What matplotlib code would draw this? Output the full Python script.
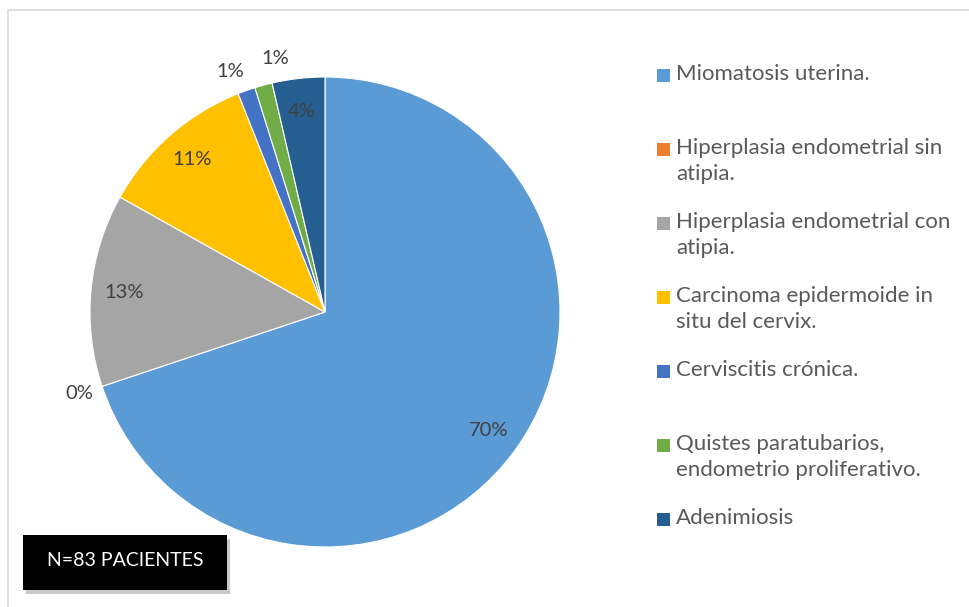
import numpy as np
import matplotlib.pyplot as plt
from matplotlib.patches import Rectangle

plt.rcParams['font.family'] = ['Lato', 'DejaVu Sans']

# data: number of patients per diagnosis (N=83)
categories = ['Miomatosis uterina.',
              'Hiperplasia endometrial sin\natipia.',
              'Hiperplasia endometrial con\natipia.',
              'Carcinoma epidermoide in\nsitu del cervix.',
              'Cerviscitis crónica.',
              'Quistes paratubarios,\nendometrio proliferativo.',
              'Adenimiosis']
counts = [58, 0, 11, 9, 1, 1, 3]
colors = ['#5B9BD5', '#ED7D31', '#A5A5A5', '#FFC000', '#4472C4', '#70AD47', '#255E91']
total_note = 'N=83 PACIENTES'

W, H = 969, 607
fig = plt.figure(figsize=(W / 100, H / 100), dpi=100)

# light chart frame
fig.patches.append(Rectangle((8 / W, -0.1), 1.2, 1.1 - 10 / H, transform=fig.transFigure,
                             fill=False, edgecolor='#d9d9d9', linewidth=1.2))

# pie axes: center (325, 312) px, radius 235 px
cx, cy, r = 325, 312, 235
ax = fig.add_axes([(cx - r) / W, (H - cy - r) / H, 2 * r / W, 2 * r / H])
wedges, texts, autotexts = ax.pie(counts, colors=colors, startangle=90, counterclock=False,
                                  autopct=lambda p: f'{p:.0f}%', pctdistance=0.86, radius=1,
                                  wedgeprops=dict(edgecolor='white', linewidth=0.8),
                                  textprops=dict(color='#404040', fontsize=14.5))
ax.set_xlim(-1, 1)
ax.set_ylim(-1, 1)
ax.set_aspect('equal')
ax.axis('off')

# move labels of tiny slices outside, spreading neighbouring 1% labels apart
frac = np.cumsum([0] + counts) / sum(counts)
tiny = [i for i in range(len(counts)) if 0 < counts[i] / sum(counts) < 0.02]
for i in range(len(counts)):
    if counts[i] / sum(counts) >= 0.02:
        continue
    mid = (frac[i] + frac[i + 1]) / 2
    shift = 0
    if i in tiny:
        shift = 2 if tiny.index(i) == 0 else -4
    ang = np.deg2rad(90 - mid * 360 + shift)
    d = 1.1
    autotexts[i].set_position((d * np.cos(ang), d * np.sin(ang)))

# legend drawn manually
y0, step = 75, 74
for i, (lab, col) in enumerate(zip(categories, colors)):
    y = y0 + i * step
    fig.patches.append(Rectangle((657 / W, (H - y - 7) / H), 13 / W, 13 / H,
                                 transform=fig.transFigure, facecolor=col, edgecolor='none'))
    fig.text(676 / W, (H - y + 11) / H, lab, fontsize=16, color='#595959', va='top',
             ha='left', linespacing=1.38)

# N box with shadow
fig.patches.append(Rectangle((26 / W, (H - 594) / H), 204 / W, 55 / H, transform=fig.transFigure,
                             facecolor='#a6a6a6', edgecolor='none', alpha=0.6))
fig.patches.append(Rectangle((23 / W, (H - 590) / H), 204 / W, 55 / H, transform=fig.transFigure,
                             facecolor='black', edgecolor='none'))
fig.text(125 / W, (H - 561) / H, total_note, color='white', fontsize=14, ha='center', va='center')

fig.savefig('out.png', dpi=100)
